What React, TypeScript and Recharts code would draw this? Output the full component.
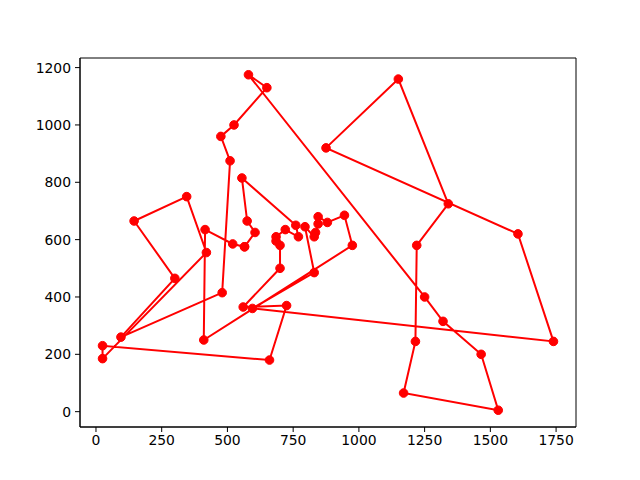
import { LineChart, Line, XAxis, YAxis, ReferenceArea } from 'recharts';

// city coordinates (index = city number - 1)
const cityX = [
  565, 25, 345, 945, 845, 880, 25, 525, 580, 650, 1605, 1220, 1465, 1530, 845, 725, 145, 415, 510, 560,
  300, 520, 480, 835, 975, 1215, 1320, 1250, 660, 410, 420, 575, 1150, 700, 685, 685, 770, 795, 720, 760,
  475, 95, 875, 700, 555, 830, 1170, 830, 605, 595, 1340, 1740,
];
const cityY = [
  575, 185, 750, 685, 655, 660, 230, 1000, 1175, 1130, 620, 580, 200, 5, 680, 370, 665, 635, 875, 365,
  465, 585, 415, 625, 580, 245, 315, 400, 180, 250, 555, 665, 1160, 580, 595, 610, 610, 645, 635, 650,
  960, 260, 920, 500, 815, 485, 65, 610, 625, 360, 725, 245,
];

// visiting order of the route (city numbers)
const route = [
  1, 22, 18, 30, 25, 4, 6, 15, 5, 24, 48, 38, 46, 50, 52, 11, 43, 33, 51, 12, 26, 47, 14, 13, 27, 28,
  9, 10, 8, 41, 19, 23, 42, 21, 17, 3, 31, 2, 7, 29, 16, 20, 44, 34, 35, 36, 39, 37, 40, 45, 32, 49, 1,
];

const xTicks = [0, 250, 500, 750, 1000, 1250, 1500, 1750];
const yTicks = [0, 200, 400, 600, 800, 1000, 1200];

const data = route.map((c) => ({ x: cityX[c - 1], y: cityY[c - 1] }));

const xDomain = [-60.75, 1825.75];
const yDomain = [-53.5, 1233.5];
const tickStyle = { fill: '#000', fontSize: 13.9, fontFamily: 'DejaVu Sans' };

export default function App() {
  return (
    <div style={{ position: 'absolute', left: 0, top: 0, width: 640, height: 480, background: '#fff' }}>
      <LineChart width={640} height={480} data={data} margin={{ top: 58, right: 64, bottom: 23, left: 30 }}>
        <XAxis
          type="number"
          dataKey="x"
          domain={xDomain}
          ticks={xTicks}
          allowDataOverflow
          height={30}
          tick={tickStyle}
          tickSize={5}
          tickMargin={3}
          stroke="#000"
        />
        <YAxis
          type="number"
          dataKey="y"
          domain={yDomain}
          ticks={yTicks}
          allowDataOverflow
          width={50}
          tick={tickStyle}
          tickSize={5}
          tickMargin={4}
          stroke="#000"
        />
        <ReferenceArea x1={xDomain[0]} x2={xDomain[1]} y1={yDomain[0]} y2={yDomain[1]} fill="none" stroke="#000" strokeWidth={1} fillOpacity={0} />
        <Line
          type="linear"
          dataKey="y"
          stroke="#ff0000"
          strokeWidth={2}
          dot={{ r: 4.3, fill: '#ff0000', stroke: '#ff0000', strokeWidth: 1 }}
          isAnimationActive={false}
        />
      </LineChart>
    </div>
  );
}
